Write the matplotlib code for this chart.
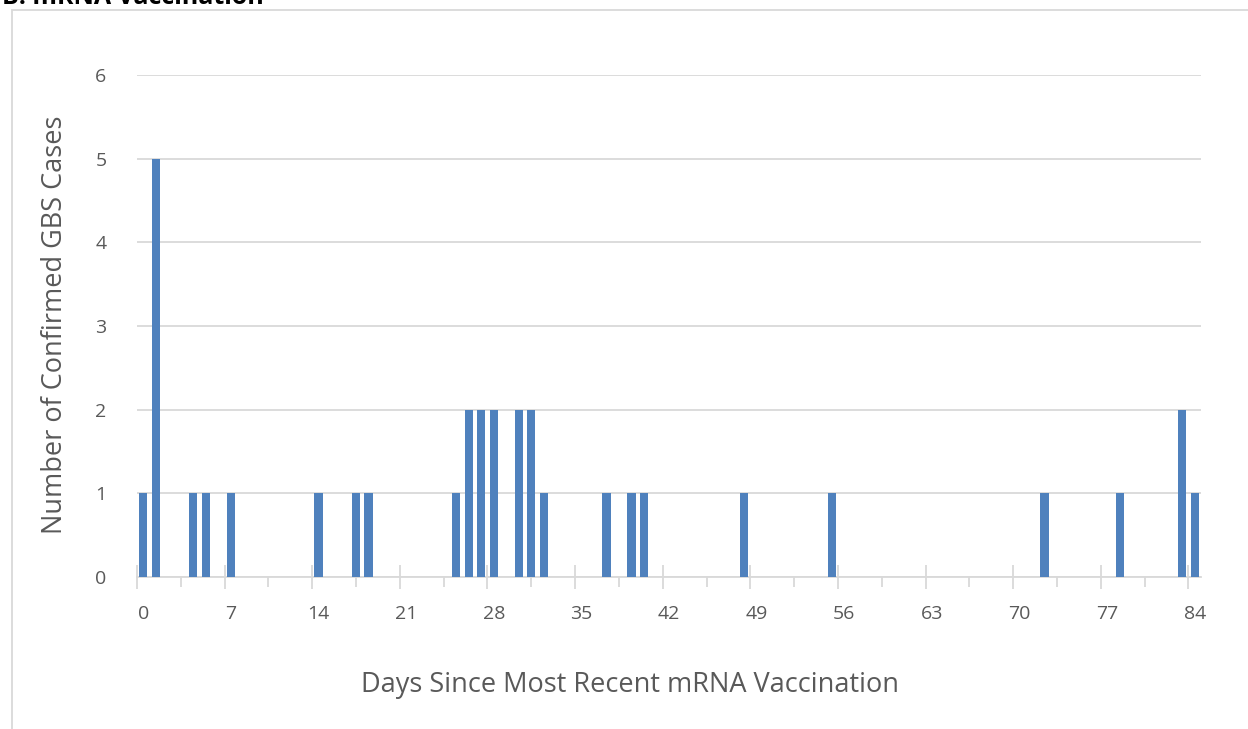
import numpy as np
import matplotlib.pyplot as plt
from matplotlib.patches import Rectangle

# ---------- Data ----------
days = np.arange(0, 85)
case_days = [0, 1, 4, 5, 7, 14, 17, 18, 25, 26, 27, 28, 30, 31, 32,
             37, 39, 40, 48, 55, 72, 78, 83, 84]
case_counts = [1, 5, 1, 1, 1, 1, 1, 1, 1, 2, 2, 2, 2, 2, 1,
               1, 1, 1, 1, 1, 1, 1, 2, 1]
tick_labels = [str(d) for d in range(0, 85, 7)]

counts = np.zeros(len(days))
for d, c in zip(case_days, case_counts):
    counts[d] = c

plt.rcParams['font.family'] = ['Open Sans', 'DejaVu Sans']

W, H = 1248, 729
fig = plt.figure(figsize=(W / 100, H / 100), dpi=100)
ax = fig.add_axes([137 / W, 1 - 577 / H, (1201 - 137) / W, (577 - 75) / H])

ax.bar(days, counts, width=0.66, color='#4f81bd', zorder=3)

ax.set_yticks(range(0, 7))
ax.yaxis.grid(True, color='#d9d9d9', linewidth=1.3, zorder=0)
ax.tick_params(axis='y', length=0, pad=22, labelsize=14, labelcolor='#595959')

# major ticks every 7 categories on boundaries, minor ticks halfway
ax.set_xticks(np.arange(0, 85, 7) - 0.5)
ax.set_xticks(np.arange(3, 84, 7), minor=True)
ax.tick_params(axis='x', which='major', length=17, width=1.3, color='#d9d9d9',
               direction='inout', labelbottom=False)
ax.tick_params(axis='x', which='minor', length=7, width=1.3, color='#d9d9d9',
               direction='out')
ax.set_xlim(-0.5, 84.5)
ax.set_ylim(0, 6)
for i, lab in enumerate(tick_labels):
    ax.text(i * 7, -0.33, lab, ha='center', va='top', fontsize=14,
            color='#595959')

for s in ['top', 'right', 'left']:
    ax.spines[s].set_visible(False)
ax.spines['bottom'].set_color('#d9d9d9')
ax.spines['bottom'].set_linewidth(1.3)

fig.text(55 / W, 1 - 325 / H, 'Number of Confirmed GBS Cases', rotation=90,
         ha='center', va='center', fontsize=19.5, color='#595959')
fig.text(630 / W, 1 - 685 / H, 'Days Since Most Recent mRNA Vaccination',
         ha='center', va='center', fontsize=19.5, color='#595959')

# chart border and clipped title
fig.patches.append(Rectangle((12 / W, -0.1), 1.2, 1 - 10 / H + 0.1,
                             transform=fig.transFigure, fill=False,
                             edgecolor='#d9d9d9', linewidth=1.3))
fig.text(2 / W, 1 - 4 / H, 'B: mRNA Vaccination', ha='left', va='baseline',
         fontsize=18, fontweight='bold', color='black')

plt.savefig('out.png', dpi=100)
